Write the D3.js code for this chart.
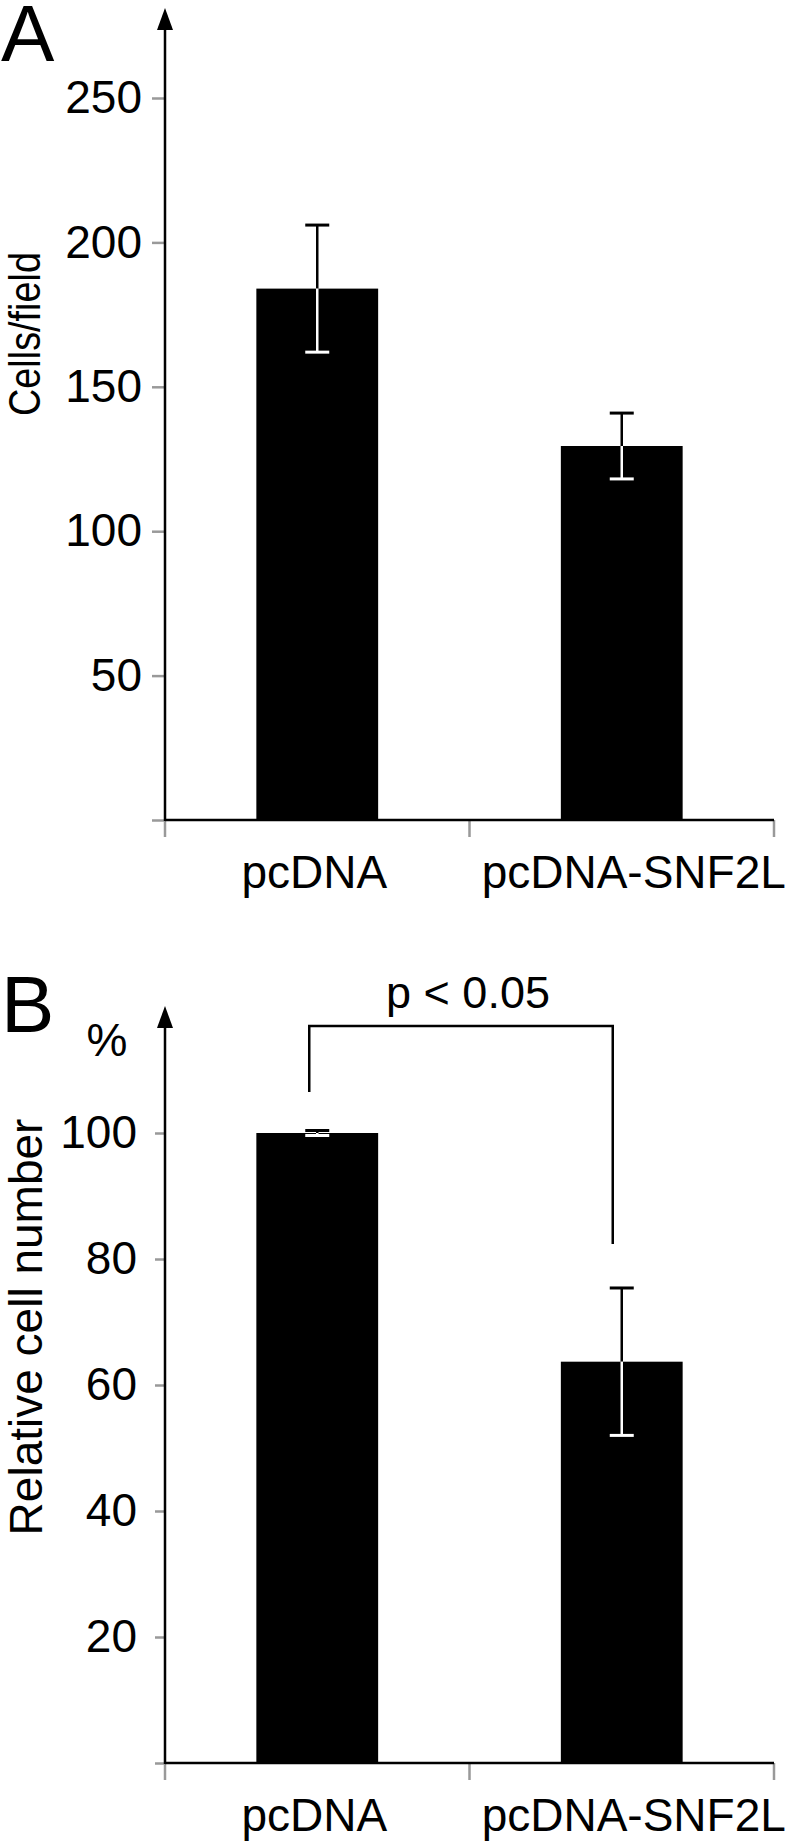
<!DOCTYPE html>
<html><head><meta charset="utf-8">
<script src="https://cdn.jsdelivr.net/npm/d3@7"></script>
<style>
body{margin:0;background:#fff}
svg{display:block;background:#fff}
text{font-family:"Liberation Sans",Arial,Helvetica,sans-serif;fill:#000}
</style>
</head><body>
<svg id="chart" width="792" height="1842"></svg>
<script>
// ---- data ----
const categories = ["pcDNA", "pcDNA-SNF2L"];

const cellsPerField = [184, 129.5];
const cellsPerFieldErr = [22, 11.4];
const cellsTicks = [0, 50, 100, 150, 200, 250];

const relativeNumber = [100, 63.7];
const relativeNumberErr = [0.4, 11.7];
const relativeTicks = [0, 20, 40, 60, 80, 100];

const significanceLabel = "p < 0.05";
const bracketLevel = 117;          // value units of the top bar of the bracket
const bracketLegEnds = [106.5, 82.4];
const significanceTextLevel = 119.8;

// ---- drawing ----
const svg = d3.select("#chart");
const font = 46;
const labelShift = [-3, 12];   // layout nudge for category labels

function panel(cfg) {
  const g = svg.append("g");
  const x = d3.scaleBand().domain(categories).range([165, 774]).paddingInner(0).paddingOuter(0);
  const y = d3.scaleLinear().domain([0, cfg.max]).range([cfg.bottom, cfg.top]);
  const bw = x.bandwidth() * 0.4;
  const cx = c => x(c) + x.bandwidth() / 2;

  // bars
  g.selectAll("rect.bar").data(categories).join("rect")
    .attr("x", c => cx(c) - bw / 2)
    .attr("width", bw)
    .attr("y", (c, i) => y(cfg.values[i]))
    .attr("height", (c, i) => y(0) - y(cfg.values[i]))
    .attr("fill", "#000");

  // error bars: black outside bar, white inside
  categories.forEach((c, i) => {
    const v = cfg.values[i], e = cfg.errs[i];
    const yt = y(v + e), yb = y(v - e), yv = y(v);
    const xc = cx(c);
    g.append("line").attr("x1", xc).attr("x2", xc).attr("y1", yt).attr("y2", yv)
      .attr("stroke", "#000").attr("stroke-width", 2.5);
    g.append("line").attr("x1", xc).attr("x2", xc).attr("y1", yv).attr("y2", yb)
      .attr("stroke", "#fff").attr("stroke-width", 2.5);
    g.append("line").attr("x1", xc - 12).attr("x2", xc + 12).attr("y1", yt).attr("y2", yt)
      .attr("stroke", "#000").attr("stroke-width", 3);
    g.append("line").attr("x1", xc - 12).attr("x2", xc + 12).attr("y1", yb).attr("y2", yb)
      .attr("stroke", "#fff").attr("stroke-width", 3);
  });

  // y axis ticks + labels via d3 axis
  const yAxis = d3.axisLeft(y).tickValues(cfg.ticks).tickSize(cfg.tickLen).tickPadding(cfg.tickPad)
    .tickFormat(d => d === 0 ? "" : d);
  const ya = g.append("g").attr("transform", "translate(165,0)").call(yAxis);
  ya.select(".domain").remove();
  ya.selectAll(".tick line").attr("stroke", "#999").attr("stroke-width", 2.5);
  ya.selectAll(".tick text").attr("font-size", font).attr("fill", "#000")
    .attr("font-family", '"Liberation Sans",Arial,sans-serif');

  // x axis: ticks at band boundaries
  const bounds = [x(categories[0]), ...categories.map(c => x(c) + x.bandwidth())];
  g.selectAll("line.xt").data(bounds).join("line")
    .attr("x1", d => d).attr("x2", d => d)
    .attr("y1", y(0)).attr("y2", y(0) + 17)
    .attr("stroke", "#999").attr("stroke-width", 2.5);
  g.append("line").attr("x1", 165).attr("x2", bounds[bounds.length - 1])
    .attr("y1", y(0)).attr("y2", y(0)).attr("stroke", "#000").attr("stroke-width", 2.5);

  // category labels
  g.selectAll("text.cat").data(categories).join("text")
    .attr("x", (c, i) => cx(c) + labelShift[i]).attr("y", y(0) + 68)
    .attr("text-anchor", "middle").attr("font-size", font).text(c => c);

  // y axis line with arrow
  g.append("line").attr("x1", 165).attr("x2", 165).attr("y1", y(0) + 1).attr("y2", cfg.arrowTip + 18)
    .attr("stroke", "#000").attr("stroke-width", 2.5);
  g.append("path")
    .attr("d", `M165,${cfg.arrowTip} L173,${cfg.arrowTip + 22} L157,${cfg.arrowTip + 22} Z`)
    .attr("fill", "#000");

  // y title
  const t = g.append("text")
    .attr("transform", `translate(${cfg.titleX},${cfg.titleCy}) rotate(-90)`)
    .attr("text-anchor", "middle").attr("font-size", cfg.titleSize).text(cfg.title);
  if (cfg.titleLength) t.attr("textLength", cfg.titleLength).attr("lengthAdjust", "spacingAndGlyphs");

  // panel letter
  g.append("text").attr("x", 1).attr("y", cfg.letterY).attr("font-size", 80).text(cfg.letter);

  return { g, x, y, cx };
}

const A = panel({
  letter: "A", letterY: 61, max: 250, top: 98, bottom: 820, arrowTip: 8,
  values: cellsPerField, errs: cellsPerFieldErr, ticks: cellsTicks,
  tickLen: 13, tickPad: 10, title: "Cells/field", titleX: 40, titleCy: 334, titleSize: 44,
  titleLength: 164
});

const B = panel({
  letter: "B", letterY: 1032, max: 100, top: 1133, bottom: 1763, arrowTip: 1006,
  values: relativeNumber, errs: relativeNumberErr, ticks: relativeTicks,
  tickLen: 10, tickPad: 18, title: "Relative cell number", titleX: 42, titleCy: 1327, titleSize: 46
});

// percent unit label
B.g.append("text").attr("x", 107).attr("y", 1056).attr("text-anchor", "middle")
  .attr("font-size", font).text("%");

// significance bracket
const bx0 = B.cx(categories[0]) - 8, bx1 = B.cx(categories[1]) - 9;
B.g.append("path")
  .attr("d", `M${bx0},${B.y(bracketLegEnds[0])} V${B.y(bracketLevel)} H${bx1} V${B.y(bracketLegEnds[1])}`)
  .attr("fill", "none").attr("stroke", "#000").attr("stroke-width", 2.5);
B.g.append("text").attr("x", (bx0 + bx1) / 2 + 7).attr("y", B.y(significanceTextLevel))
  .attr("text-anchor", "middle").attr("font-size", 45).text(significanceLabel);
</script>
</body></html>
